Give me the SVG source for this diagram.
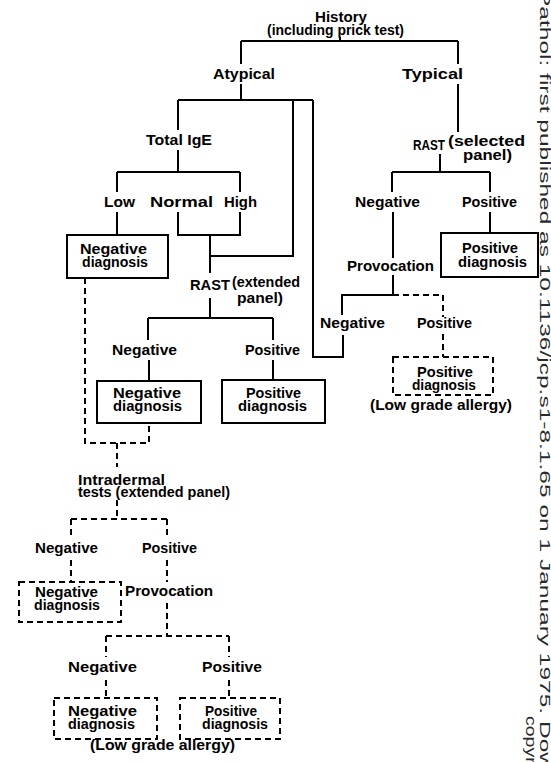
<svg xmlns="http://www.w3.org/2000/svg" width="551" height="762" viewBox="0 0 551 762">
<style>
text{font-family:"Liberation Sans",Arial,sans-serif;font-weight:bold;font-size:15px;fill:#000}
.s{font-size:14px}
.ln{fill:none;stroke:#000;stroke-width:2}
.d{fill:none;stroke:#000;stroke-width:2;stroke-dasharray:6 4}
.wm{font-weight:normal;fill:#2a2a2a}
</style>
<rect width="551" height="762" fill="#fff"/>
<g id="connectors">
<path class="ln" d="M340,37V41M241,41H458M241,41V64M458,41V64"/>
<path class="ln" d="M241,84V100M178,100H313M178,100V130"/>
<path class="ln" d="M293,100V256H210M313,100V357H343V335"/>
<path class="ln" d="M178,150V172M117,172H240M117,172V192M240,172V192"/>
<path class="ln" d="M117,212V235M178,212V235H240V212M210,235V273"/>
<path class="ln" d="M210,298V318M148,318H273M148,318V340M273,318V340M149,360V381M273,360V380"/>
<path class="ln" d="M458,84V132M440,154V172M392,172H490M392,172V192M490,172V192M490,212V233"/>
<path class="ln" d="M393,212V258M393,275V295H342V315"/>
<path class="d" d="M393,295H443V317M443,334V357"/>
<path class="d" d="M85,278V443H149V423M117,443V467"/>
<path class="d" d="M117,500V519M71,519H167M71,519V537M167,519V537M71,560V582M167,560V582"/>
<path class="d" d="M167,603V636M106,636H229M106,636V657M229,636V657M106,680V698M229,680V698"/>
</g>
<g id="history"><text x="315" y="22" textLength="52" lengthAdjust="spacingAndGlyphs">History</text><text class="s" x="267" y="35" textLength="137" lengthAdjust="spacingAndGlyphs">(including prick test)</text></g>
<g id="atypical"><text x="213" y="79" textLength="62" lengthAdjust="spacingAndGlyphs">Atypical</text></g>
<g id="typical"><text x="402" y="79" textLength="61" lengthAdjust="spacingAndGlyphs">Typical</text></g>
<g id="total-ige"><text x="146" y="145" textLength="66" lengthAdjust="spacingAndGlyphs">Total IgE</text></g>
<g id="low"><text x="104" y="207" textLength="31" lengthAdjust="spacingAndGlyphs">Low</text></g>
<g id="normal"><text x="150" y="207" textLength="63" lengthAdjust="spacingAndGlyphs">Normal</text></g>
<g id="high"><text x="224" y="207" textLength="33" lengthAdjust="spacingAndGlyphs">High</text></g>
<g id="neg-diag-low"><rect class="ln" x="67" y="235" width="101" height="43"/><text class="s" x="80" y="254" textLength="67" lengthAdjust="spacingAndGlyphs">Negative</text><text class="s" x="82" y="267" textLength="66" lengthAdjust="spacingAndGlyphs">diagnosis</text></g>
<g id="rast-extended"><text x="190" y="290" textLength="40" lengthAdjust="spacingAndGlyphs">RAST</text><text class="s" x="232" y="287" textLength="68" lengthAdjust="spacingAndGlyphs">(extended</text><text class="s" x="237" y="303" textLength="46" lengthAdjust="spacingAndGlyphs">panel)</text></g>
<g id="rast-ext-negative"><text x="112" y="355" textLength="65" lengthAdjust="spacingAndGlyphs">Negative</text></g>
<g id="rast-ext-positive"><text x="245" y="355" textLength="55" lengthAdjust="spacingAndGlyphs">Positive</text></g>
<g id="neg-diag-rast"><rect class="ln" x="97" y="381" width="104" height="42"/><text class="s" x="113" y="398" textLength="68" lengthAdjust="spacingAndGlyphs">Negative</text><text class="s" x="113" y="411" textLength="69" lengthAdjust="spacingAndGlyphs">diagnosis</text></g>
<g id="pos-diag-rast"><rect class="ln" x="222" y="380" width="103" height="43"/><text class="s" x="246" y="398" textLength="55" lengthAdjust="spacingAndGlyphs">Positive</text><text class="s" x="238" y="411" textLength="69" lengthAdjust="spacingAndGlyphs">diagnosis</text></g>
<g id="rast-selected"><text x="413" y="150" textLength="32" lengthAdjust="spacingAndGlyphs">RAST</text><text class="s" x="448" y="146" textLength="77" lengthAdjust="spacingAndGlyphs">(selected</text><text class="s" x="463" y="160" textLength="49" lengthAdjust="spacingAndGlyphs">panel)</text></g>
<g id="rast-sel-negative"><text x="355" y="207" textLength="65" lengthAdjust="spacingAndGlyphs">Negative</text></g>
<g id="rast-sel-positive"><text x="462" y="207" textLength="55" lengthAdjust="spacingAndGlyphs">Positive</text></g>
<g id="pos-diag-sel"><rect class="ln" x="441" y="233" width="97" height="44"/><text class="s" x="462" y="253" textLength="56" lengthAdjust="spacingAndGlyphs">Positive</text><text class="s" x="458" y="267" textLength="69" lengthAdjust="spacingAndGlyphs">diagnosis</text></g>
<g id="provocation-1"><text x="347" y="271" textLength="87" lengthAdjust="spacingAndGlyphs">Provocation</text></g>
<g id="prov1-negative"><text x="320" y="328" textLength="65" lengthAdjust="spacingAndGlyphs">Negative</text></g>
<g id="prov1-positive"><text x="417" y="328" textLength="55" lengthAdjust="spacingAndGlyphs">Positive</text></g>
<g id="pos-diag-low-grade-1"><rect class="d" x="393" y="357" width="100" height="38"/><text class="s" x="417" y="377" textLength="56" lengthAdjust="spacingAndGlyphs">Positive</text><text class="s" x="412" y="390" textLength="64" lengthAdjust="spacingAndGlyphs">diagnosis</text><text x="370" y="410" textLength="142" lengthAdjust="spacingAndGlyphs">(Low grade allergy)</text></g>
<g id="intradermal"><text class="s" x="78" y="485" textLength="87" lengthAdjust="spacingAndGlyphs">Intradermal</text><text class="s" x="78" y="497" textLength="152" lengthAdjust="spacingAndGlyphs">tests (extended panel)</text></g>
<g id="id-negative"><text x="35" y="553" textLength="63" lengthAdjust="spacingAndGlyphs">Negative</text></g>
<g id="id-positive"><text x="142" y="553" textLength="55" lengthAdjust="spacingAndGlyphs">Positive</text></g>
<g id="neg-diag-id"><rect class="d" x="19" y="582" width="102" height="40"/><text class="s" x="35" y="597" textLength="63" lengthAdjust="spacingAndGlyphs">Negative</text><text class="s" x="34" y="610" textLength="66" lengthAdjust="spacingAndGlyphs">diagnosis</text></g>
<g id="provocation-2"><text x="125" y="596" textLength="88" lengthAdjust="spacingAndGlyphs">Provocation</text></g>
<g id="prov2-negative"><text x="68" y="672" textLength="69" lengthAdjust="spacingAndGlyphs">Negative</text></g>
<g id="prov2-positive"><text x="202" y="672" textLength="60" lengthAdjust="spacingAndGlyphs">Positive</text></g>
<g id="neg-diag-prov2"><rect class="d" x="54" y="698" width="103" height="41"/><text class="s" x="68" y="716" textLength="69" lengthAdjust="spacingAndGlyphs">Negative</text><text class="s" x="68" y="729" textLength="67" lengthAdjust="spacingAndGlyphs">diagnosis</text></g>
<g id="pos-diag-prov2"><rect class="d" x="180" y="698" width="100" height="41"/><text class="s" x="205" y="716" textLength="52" lengthAdjust="spacingAndGlyphs">Positive</text><text class="s" x="202" y="729" textLength="66" lengthAdjust="spacingAndGlyphs">diagnosis</text><text x="90" y="750" textLength="145" lengthAdjust="spacingAndGlyphs">(Low grade allergy)</text></g>
<g id="watermark">
<text class="wm" transform="translate(540,-10) rotate(90)" font-size="24" textLength="780" lengthAdjust="spacingAndGlyphs">Pathol: first published as 10.1136/jcp.s1-8.1.65 on 1 January 1975. Dow</text>
<text class="wm" transform="translate(526,716) rotate(90)" font-size="20" textLength="52" lengthAdjust="spacingAndGlyphs">copyri</text>
</g>
</svg>
